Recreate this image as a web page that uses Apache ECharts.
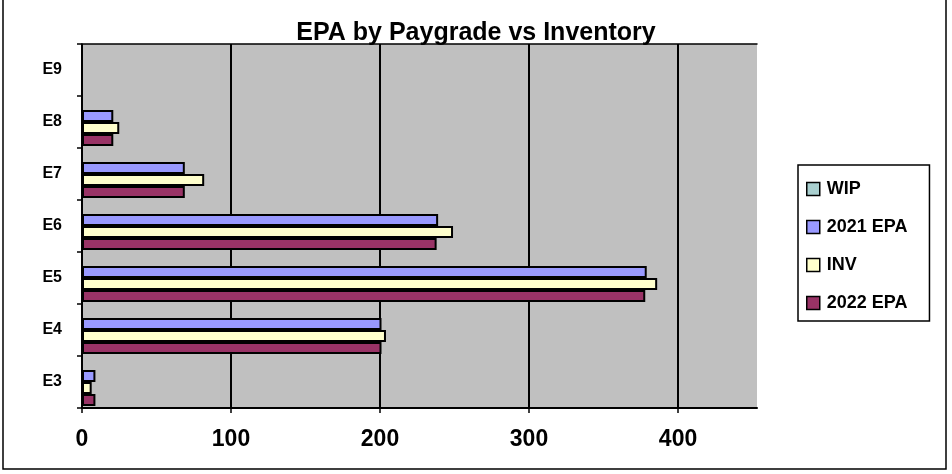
<!DOCTYPE html>
<html>
<head>
<meta charset="utf-8">
<script src="https://cdn.jsdelivr.net/npm/echarts@6/dist/echarts.min.js"></script>
<style>html,body{margin:0;padding:0;background:#fff}#c{width:952px;height:474px}</style>
</head>
<body>
<div id="c"></div>
<script>
const categories = ['E3', 'E4', 'E5', 'E6', 'E7', 'E8', 'E9'];
const wip     = [null, null, null, null, null, null, null];
const epa2021 = [9, 201, 379, 239, 69, 21, null];
const inv     = [6.5, 204, 386, 249, 82, 25, null];
const epa2022 = [9, 201, 378, 238, 69, 21, null];
const xTicks  = [0, 100, 200, 300, 400];

const font = 'Liberation Sans, Arial, sans-serif';
const chart = echarts.init(document.getElementById('c'));
const barStyle = (c) => ({ color: c, borderColor: '#000', borderWidth: 2 });
chart.setOption({
  animation: false,
  backgroundColor: '#fff',
  title: {
    text: 'EPA by Paygrade vs Inventory',
    left: 'center', top: 16,
    textStyle: { fontFamily: font, fontWeight: 'bold', fontSize: 25, color: '#000' }
  },
  legend: {
    orient: 'vertical', left: 798, top: 165,
    data: ['WIP', '2021 EPA', 'INV', '2022 EPA'],
    itemWidth: 13, itemHeight: 13, itemGap: 20,
    padding: [15, 22, 9, 8],
    borderColor: '#000', borderWidth: 1.5,
    icon: 'rect',
    textStyle: { fontFamily: font, fontWeight: 'bold', fontSize: 18, color: '#000', padding: [0, 0, 0, 2] },
    itemStyle: { borderColor: '#000', borderWidth: 1.5 }
  },
  grid: { left: 82, right: 195, top: 44, bottom: 66, show: true, backgroundColor: '#C0C0C0', borderWidth: 0 },
  xAxis: [{
    type: 'value', min: 0, max: 453, interval: 100,
    axisLine: { show: true, lineStyle: { color: '#000', width: 2 } },
    axisTick: { show: true, length: 5, customValues: xTicks, lineStyle: { color: '#000', width: 1.5 } },
    splitLine: { show: true, lineStyle: { color: '#000', width: 2 } },
    axisLabel: {
      margin: 20, fontFamily: font, fontWeight: 'bold', fontSize: 23, color: '#000',
      customValues: xTicks
    }
  }, {
    type: 'value', position: 'top', min: 0, max: 453,
    axisLine: { show: true, lineStyle: { color: '#000', width: 1.5 } },
    axisTick: { show: false }, axisLabel: { show: false }, splitLine: { show: false }
  }],
  yAxis: {
    type: 'category', data: categories,
    axisLine: { show: true, lineStyle: { color: '#000', width: 1.5 } },
    axisTick: { show: true, length: 5, lineStyle: { color: '#000', width: 1.5 } },
    axisLabel: { margin: 20, fontFamily: font, fontWeight: 'bold', fontSize: 16, color: '#000' }
  },
  series: [
    { name: 'WIP', type: 'bar', data: wip, barWidth: 12, barGap: '0%', itemStyle: barStyle('#A9CFCF') },
    { name: '2021 EPA', type: 'bar', data: epa2021, barWidth: 12, barGap: '0%', itemStyle: barStyle('#9999FF') },
    { name: 'INV', type: 'bar', data: inv, barWidth: 12, barGap: '0%', itemStyle: barStyle('#FFFFCC') },
    { name: '2022 EPA', type: 'bar', data: epa2022, barWidth: 12, barGap: '0%', itemStyle: barStyle('#993366') }
  ],
  graphic: [{
    type: 'rect', silent: true,
    shape: { x: 3, y: -2, width: 943, height: 471 },
    style: { fill: 'none', stroke: '#000', lineWidth: 1.5 }
  }]
});
</script>
</body>
</html>
